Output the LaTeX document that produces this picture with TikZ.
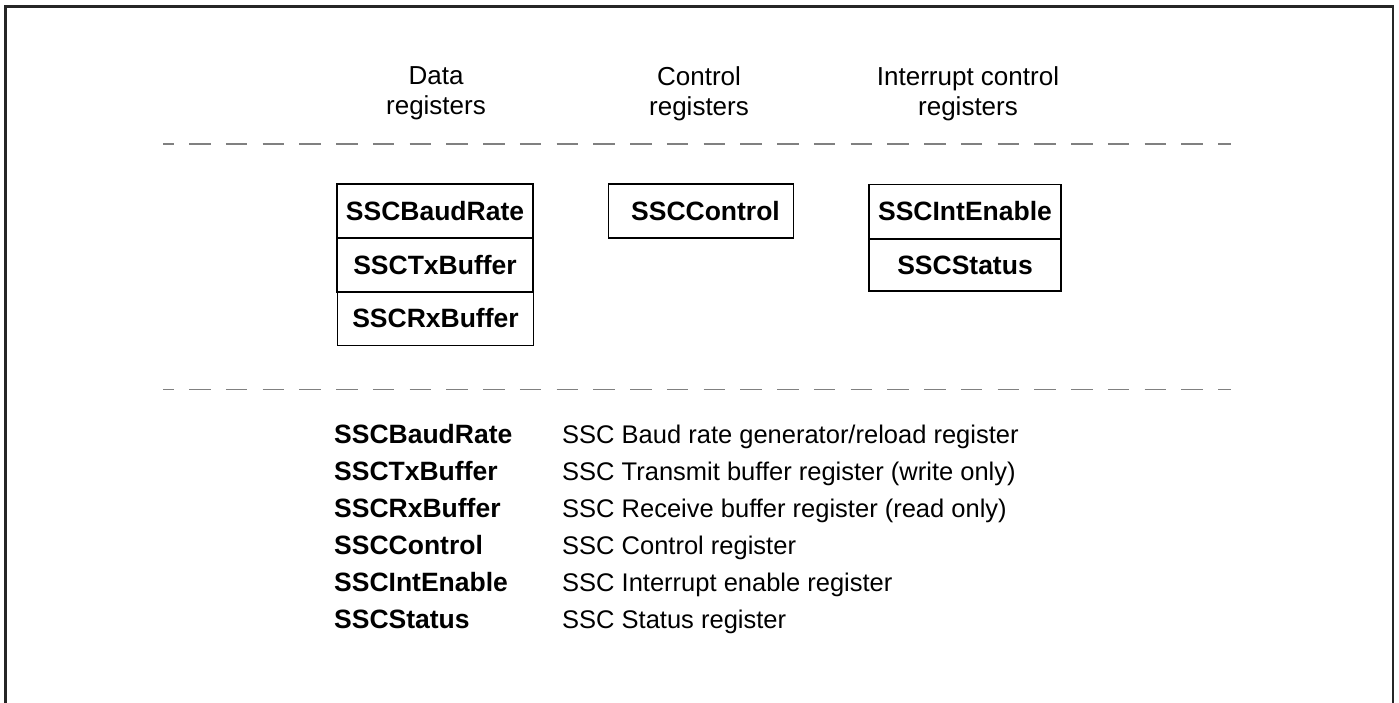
\documentclass[tikz,border=0pt]{standalone}
\usepackage{fontspec}
\setmainfont{Liberation Sans}
\begin{document}
\begin{tikzpicture}[x=1pt,y=-1pt,
  frame/.style={line width=2.2pt,draw=black!85},
  sep/.style={line width=1.8pt,draw=black!50,dash pattern=on 21.5pt off 15.25pt,dash phase=10.75pt},
  head/.style={inner sep=0pt,align=center,font=\fontsize{26}{30}\selectfont},
  reg/.style={draw,line width=1.3pt,inner sep=0pt,minimum height=54pt,font=\fontsize{26.5}{30}\selectfont\bfseries},
  lname/.style={inner sep=0pt,anchor=base west,font=\fontsize{26.5}{30}\selectfont\bfseries},
  ldesc/.style={inner sep=0pt,anchor=base west,font=\fontsize{25.5}{30}\selectfont}]
\useasboundingbox (0,0) rectangle (1399,702);
\fill[white] (0,0) rectangle (1399,702);
\draw[frame] (5.5,710) -- (5.5,6.5) -- (1393,6.5) -- (1393,710);
% headings
\node[head] (hdata) at (436,93.6) {Data\\registers};
\node[head] (hctrl) at (699,93.6) {Control\\registers};
\node[head] (hint) at (968,93.6) {Interrupt control\\registers};
% separators
\coordinate (s1a) at (163,144);
\coordinate (s1b) at (1231,144);
\coordinate (s2a) at (163,389.5);
\coordinate (s2b) at (1231,389.5);
\draw[sep] (s1a) -- (s1b);
\draw[sep] (s2a) -- (s2b);
% data registers
\node[reg,minimum width=196pt] (baud) at (435,211) {SSCBaudRate};
\node[reg,minimum width=196pt] (tx) at (435,265) {SSCTxBuffer};
\node[reg,minimum width=196pt] (rx) at (435.5,318.5) {SSCRxBuffer};
% control
\node[reg,minimum width=185pt] (ctrl) at (701,211) {\hspace*{9pt}SSCControl};
% interrupt
\node[reg,minimum width=192pt] (ien) at (965,211.5) {SSCIntEnable};
\node[reg,minimum width=192pt,minimum height=52pt] (stat) at (965,265) {SSCStatus};
% legend
\foreach \i/\n/\d in {0/SSCBaudRate/SSC Baud rate generator\slash reload register,
                      1/SSCTxBuffer/SSC Transmit buffer register (write only),
                      2/SSCRxBuffer/SSC Receive buffer register (read only),
                      3/SSCControl/SSC Control register,
                      4/SSCIntEnable/SSC Interrupt enable register,
                      5/SSCStatus/SSC Status register}{
  \node[lname] (ln\i) at (334,443+37*\i) {\n};
  \node[ldesc] (ld\i) at (562,443+37*\i) {\d};
}
\end{tikzpicture}
\end{document}
